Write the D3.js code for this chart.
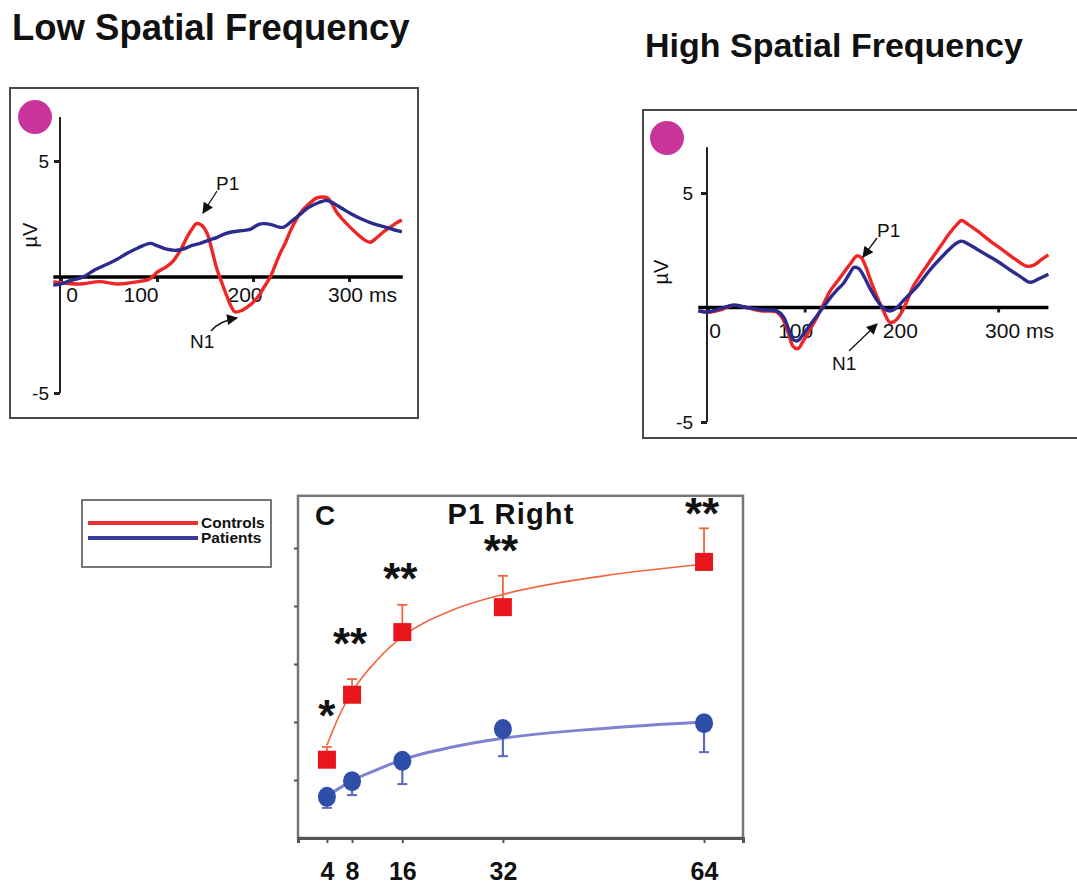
<!DOCTYPE html>
<html>
<head>
<meta charset="utf-8">
<script src="https://cdn.jsdelivr.net/npm/d3@7"></script>
<style>
  html, body { margin: 0; padding: 0; background: #fff; }
  svg { display: block; }
  text { font-family: "Liberation Sans", Arial, Helvetica, sans-serif; fill: #111; }
</style>
</head>
<body>
<script>
// ---------- ERP waveforms: [time (ms), amplitude (µV)] ----------
const lsfControls = [[-8,-0.2],[0,-0.25],[20,-0.3],[40,-0.2],[60,-0.3],[80,-0.2],[92,-0.1],[100,0.2],[110,0.45],[117,0.7],[125,1.2],[131,1.7],[137,2.1],[141,2.3],[146,2.25],[152,1.9],[157,1.2],[162,0.4],[168,-0.3],[173,-0.85],[177,-1.25],[181,-1.5],[188,-1.45],[194,-1.3],[200,-1.1],[207,-0.75],[212,-0.4],[218,0],[223,0.5],[228,1.0],[234,1.5],[239,2.0],[244,2.4],[249,2.75],[257,3.1],[266,3.4],[272,3.45],[278,3.4],[283,3.1],[287,2.8],[294,2.45],[301,2.15],[310,1.8],[316,1.6],[322,1.5],[329,1.7],[336,1.95],[343,2.15],[350,2.35],[355,2.45]];
const lsfPatients = [[-8,-0.35],[0,-0.3],[10,-0.15],[23,0],[35,0.3],[48,0.55],[58,0.75],[68,1.0],[80,1.25],[93,1.45],[100,1.35],[110,1.2],[120,1.15],[127,1.2],[136,1.35],[145,1.45],[155,1.6],[162,1.7],[170,1.85],[179,1.95],[188,2.0],[197,2.05],[205,2.25],[211,2.3],[220,2.25],[227,2.15],[232,2.15],[240,2.4],[249,2.7],[258,3.0],[268,3.2],[277,3.3],[285,3.15],[293,2.95],[301,2.75],[313,2.5],[325,2.3],[338,2.15],[350,2.0],[355,1.95]];
const hsfControls = [[-10,-0.15],[0,-0.2],[13,-0.1],[26,0.1],[40,0],[55,-0.15],[71,-0.2],[78,-0.55],[83,-1.1],[88,-1.7],[93,-1.8],[98,-1.5],[105,-1.0],[113,-0.4],[120,0.2],[126,0.7],[133,1.1],[140,1.5],[147,1.9],[154,2.25],[158,2.2],[163,1.8],[168,1.2],[175,0.45],[182,-0.2],[188,-0.65],[193,-0.6],[199,-0.3],[206,0.3],[212,0.9],[221,1.5],[230,2.05],[240,2.65],[250,3.25],[258,3.65],[262,3.8],[270,3.6],[280,3.3],[292,2.9],[305,2.5],[318,2.1],[330,1.8],[337,1.85],[345,2.1],[352,2.3]];
const hsfPatients = [[-10,-0.15],[0,-0.2],[13,-0.05],[26,0.1],[40,0],[55,-0.1],[71,-0.15],[78,-0.4],[83,-0.9],[88,-1.4],[93,-1.45],[98,-1.2],[105,-0.8],[112,-0.4],[119,0],[126,0.4],[133,0.75],[140,1.05],[146,1.45],[151,1.75],[156,1.7],[162,1.3],[168,0.8],[175,0.3],[182,-0.05],[188,-0.15],[194,-0.05],[202,0.3],[209,0.6],[216,0.9],[225,1.4],[235,1.9],[245,2.35],[255,2.75],[262,2.9],[270,2.75],[280,2.5],[290,2.25],[300,2.0],[312,1.65],[323,1.35],[333,1.1],[342,1.25],[352,1.45]];

const timeTicks = [0, 100, 200, 300];
const timeTickLabels = ["0", "100", "200", "300 ms"];
const ampTicks = [-5, 5];

// ---------- P1 amplitude by spatial frequency ----------
const spatialFreqs = [4, 8, 16, 32, 64];
const controlsMean = [1.35, 2.47, 3.55, 3.98, 4.76];
const controlsUpper = [1.57, 2.74, 4.02, 4.52, 5.34];
const patientsMean = [0.71, 0.98, 1.33, 1.88, 1.98];
const patientsLower = [0.52, 0.74, 0.93, 1.41, 1.48];
// fitted trend curves [cycles, amplitude]
const controlsFit = [[4,1.6],[6,2.12],[8,2.52],[12,3.07],[16,3.47],[24,3.93],[32,4.2],[48,4.52],[64,4.72]];
const patientsFit = [[4,0.72],[6,0.86],[8,0.99],[12,1.18],[16,1.35],[24,1.57],[32,1.72],[48,1.89],[64,2.0]];
const sigLabels = ["*", "**", "**", "**", "**"];
const sigHeights = [2.26, 3.5, 4.62, 5.1, 5.74];
const amplitudeTicks = [1, 2, 3, 4, 5];

const W = 1077, H = 890;
const RED = "#ef2626", NAVY = "#2c2c8e", MAGENTA = "#c9359b";

const svg = d3.select("body").append("svg")
  .attr("width", W).attr("height", H)
  .attr("viewBox", `0 0 ${W} ${H}`);

svg.append("rect").attr("width", W).attr("height", H).attr("fill", "#fff");

// panel titles
svg.append("text").attr("x", 12).attr("y", 40)
  .attr("font-size", 36.5).attr("font-weight", "bold")
  .text("Low Spatial Frequency");
svg.append("text").attr("x", 645).attr("y", 57)
  .attr("font-size", 34).attr("font-weight", "bold")
  .text("High Spatial Frequency");

// arrowhead marker for P1 / N1 callouts
const defs = svg.append("defs");
defs.append("marker").attr("id", "arrowhead")
  .attr("viewBox", "0 0 10 10").attr("refX", 9).attr("refY", 5)
  .attr("markerWidth", 12).attr("markerHeight", 11)
  .attr("markerUnits", "userSpaceOnUse")
  .attr("orient", "auto")
  .append("path").attr("d", "M0,0 L10,5 L0,10 Z").attr("fill", "#111");

function erpPanel(cfg) {
  const g = svg.append("g");
  const x = d3.scaleLinear().domain(cfg.tDomain).range(cfg.xRange);
  const y = d3.scaleLinear().domain([-5, 5]).range(cfg.yRange);

  // frame
  g.append("rect")
    .attr("x", cfg.box[0]).attr("y", cfg.box[1])
    .attr("width", cfg.box[2]).attr("height", cfg.box[3])
    .attr("fill", "none").attr("stroke", "#4a4a4a").attr("stroke-width", 2);

  // electrode marker
  g.append("circle").attr("cx", cfg.dot[0]).attr("cy", cfg.dot[1]).attr("r", 17)
    .attr("fill", MAGENTA);

  // amplitude axis
  g.append("line")
    .attr("x1", cfg.yAxisX).attr("x2", cfg.yAxisX)
    .attr("y1", y(cfg.vTop)).attr("y2", y(-5))
    .attr("stroke", "#222").attr("stroke-width", 2);

  const yAxis = g.append("g").attr("transform", `translate(${cfg.yAxisX},0)`)
    .call(d3.axisLeft(y).tickValues(ampTicks).tickSize(6).tickPadding(cfg.yPad)
      .tickFormat(d => String(d)));
  yAxis.select(".domain").remove();
  yAxis.selectAll("line").attr("stroke", "#222").attr("stroke-width", 3);
  yAxis.selectAll("text").attr("font-size", 19).attr("font-family", null).attr("fill", "#222");

  // µV label
  g.append("text")
    .attr("transform", `translate(${cfg.unitPos[0]},${cfg.unitPos[1]}) rotate(-90)`)
    .attr("text-anchor", "middle").attr("dominant-baseline", "central")
    .attr("font-size", 20).text("µV");

  // time ticks below the baseline
  const xAxis = g.append("g").attr("transform", `translate(0,${y(0)})`)
    .call(d3.axisBottom(x).tickValues(timeTicks).tickSize(5).tickFormat(""));
  xAxis.select(".domain").remove();
  xAxis.selectAll("line").attr("stroke", "#222").attr("stroke-width", 3);

  // time tick labels
  timeTicks.forEach((t, i) => {
    const lab = timeTickLabels[i];
    const txt = g.append("text")
      .attr("x", x(t) + cfg.labelDx[i]).attr("y", y(0) + cfg.labelDy)
      .attr("font-size", 21).attr("fill", "#222");
    if (lab.endsWith("ms")) {
      txt.attr("text-anchor", "start").text(lab);
    } else {
      txt.attr("text-anchor", "middle").text(lab);
    }
  });

  // baseline
  g.append("line")
    .attr("x1", x(cfg.tDomain[0])).attr("x2", x(cfg.tDomain[1]))
    .attr("y1", y(0)).attr("y2", y(0))
    .attr("stroke", "#000").attr("stroke-width", 3.5);

  const line = d3.line().x(d => x(d[0])).y(d => y(d[1])).curve(d3.curveCatmullRom.alpha(0.5));
  g.append("path").datum(cfg.controls).attr("d", line)
    .attr("fill", "none").attr("stroke", RED).attr("stroke-width", 3.4)
    .attr("stroke-linejoin", "round");
  g.append("path").datum(cfg.patients).attr("d", line)
    .attr("fill", "none").attr("stroke", NAVY).attr("stroke-width", 3.4)
    .attr("stroke-linejoin", "round");

  // P1 / N1 callouts
  const p1 = cfg.p1, n1 = cfg.n1;
  g.append("text").attr("x", p1.text[0]).attr("y", p1.text[1]).attr("font-size", 19).text("P1");
  g.append("path").attr("d", p1.path).attr("fill", "none")
    .attr("stroke", "#111").attr("stroke-width", 1.3).attr("marker-end", "url(#arrowhead)");
  g.append("text").attr("x", n1.text[0]).attr("y", n1.text[1]).attr("font-size", 19).text("N1");
  g.append("path").attr("d", n1.path).attr("fill", "none")
    .attr("stroke", "#111").attr("stroke-width", 1.3).attr("marker-end", "url(#arrowhead)");
}

erpPanel({
  box: [10, 88, 408, 330],
  tDomain: [-8, 356], xRange: [53.3, 402.8],
  yRange: [393, 161], vTop: 6.9,
  yAxisX: 60, yPad: 5,
  dot: [35, 117],
  unitPos: [30, 235],
  labelDx: [11, -16, -8, -21], labelDy: 25,
  controls: lsfControls, patients: lsfPatients,
  p1: { text: [216, 190], path: "M217,191 L203,213" },
  n1: { text: [190, 348], path: "M211,331 Q219,321 237,318" }
});

erpPanel({
  box: [643, 110, 460, 328],
  tDomain: [-10, 352], xRange: [698.3, 1048.4],
  yRange: [422, 193], vTop: 7.0,
  yAxisX: 707, yPad: 8,
  dot: [667, 138],
  unitPos: [661, 272],
  labelDx: [7, -9, -1, -13], labelDy: 30,
  controls: hsfControls, patients: hsfPatients,
  p1: { text: [877, 237], path: "M877,238 L863,257" },
  n1: { text: [832, 370], path: "M849,351 L877,324" }
});

// ---------- P1 Right panel ----------
const gc = svg.append("g");
const xC = d3.scaleLinear().domain([-0.6, 70.2]).range([298, 743]);
const yC = d3.scaleLinear().domain([0, 6]).range([838, 490]);

gc.append("rect").attr("x", 298).attr("y", yC(5.9)).attr("width", xC(70.2) - xC(-0.6))
  .attr("height", yC(0) - yC(5.9))
  .attr("fill", "none").attr("stroke", "#777").attr("stroke-width", 2.5);

const yAxC = gc.append("g").attr("transform", `translate(${xC(-0.6)},0)`)
  .call(d3.axisLeft(yC).tickValues(amplitudeTicks).tickSize(4).tickFormat(""));
yAxC.select(".domain").remove();
yAxC.selectAll("line").attr("stroke", "#555").attr("stroke-width", 2);

const xAxC = gc.append("g").attr("transform", `translate(0,${yC(0)})`)
  .call(d3.axisBottom(xC).tickValues(spatialFreqs).tickSize(5).tickPadding(19));
xAxC.select(".domain").attr("stroke", "#555").attr("stroke-width", 3);
xAxC.selectAll("line").attr("stroke", "#555").attr("stroke-width", 2);
xAxC.selectAll("text").attr("font-size", 25).attr("font-weight", "bold")
  .attr("font-family", null).attr("fill", "#1a1a1a");

gc.append("text").attr("x", 315).attr("y", 525).attr("font-size", 28).attr("font-weight", "bold").text("C");
gc.append("text").attr("x", 511).attr("y", 524).attr("text-anchor", "middle")
  .attr("font-size", 29).attr("font-weight", "bold").attr("letter-spacing", 1.2).text("P1 Right");

// trend curves
const fitLine = d3.line().x(d => xC(d[0])).y(d => yC(d[1])).curve(d3.curveMonotoneX);
gc.append("path").datum(patientsFit).attr("d", fitLine)
  .attr("fill", "none").attr("stroke", "#7c84d0").attr("stroke-width", 3);
gc.append("path").datum(controlsFit).attr("d", fitLine)
  .attr("fill", "none").attr("stroke", "#f2673f").attr("stroke-width", 1.6);

// error bars
spatialFreqs.forEach((f, i) => {
  const cx = xC(f);
  gc.append("line").attr("x1", cx).attr("x2", cx)
    .attr("y1", yC(controlsMean[i])).attr("y2", yC(controlsUpper[i]))
    .attr("stroke", "#f2673f").attr("stroke-width", 1.8);
  gc.append("line").attr("x1", cx - 5).attr("x2", cx + 5)
    .attr("y1", yC(controlsUpper[i])).attr("y2", yC(controlsUpper[i]))
    .attr("stroke", "#f2673f").attr("stroke-width", 1.8);
  gc.append("line").attr("x1", cx).attr("x2", cx)
    .attr("y1", yC(patientsMean[i])).attr("y2", yC(patientsLower[i]))
    .attr("stroke", "#5b69c2").attr("stroke-width", 2.2);
  gc.append("line").attr("x1", cx - 5).attr("x2", cx + 5)
    .attr("y1", yC(patientsLower[i])).attr("y2", yC(patientsLower[i]))
    .attr("stroke", "#5b69c2").attr("stroke-width", 2);
});

// markers
gc.selectAll("rect.ctrl").data(spatialFreqs).join("rect").attr("class", "ctrl")
  .attr("x", d => xC(d) - 9).attr("y", (d, i) => yC(controlsMean[i]) - 9)
  .attr("width", 18).attr("height", 18).attr("fill", "#e8161c");
gc.selectAll("ellipse.pat").data(spatialFreqs).join("ellipse").attr("class", "pat")
  .attr("cx", d => xC(d)).attr("cy", (d, i) => yC(patientsMean[i]))
  .attr("rx", 9).attr("ry", 10).attr("fill", "#2f4ea8");

// significance marks
spatialFreqs.forEach((f, i) => {
  gc.append("text").attr("x", xC(f) - (i === 0 ? 0 : 2)).attr("y", yC(sigHeights[i]) + 24)
    .attr("text-anchor", "middle").attr("font-size", 44).attr("font-weight", "bold")
    .text(sigLabels[i]);
});

// legend
const lg = svg.append("g");
lg.append("rect").attr("x", 82).attr("y", 500).attr("width", 189).attr("height", 67)
  .attr("fill", "#fff").attr("stroke", "#555").attr("stroke-width", 1.6);
const legendItems = [
  { name: "Controls", color: "#f03030", y: 523 },
  { name: "Patients", color: "#3a3a9c", y: 538 }
];
legendItems.forEach(it => {
  lg.append("line").attr("x1", 88).attr("x2", 198).attr("y1", it.y).attr("y2", it.y)
    .attr("stroke", it.color).attr("stroke-width", 4);
  lg.append("text").attr("x", 201).attr("y", it.y + 5).attr("font-size", 15.5)
    .attr("font-weight", "bold").text(it.name);
});
</script>
</body>
</html>
